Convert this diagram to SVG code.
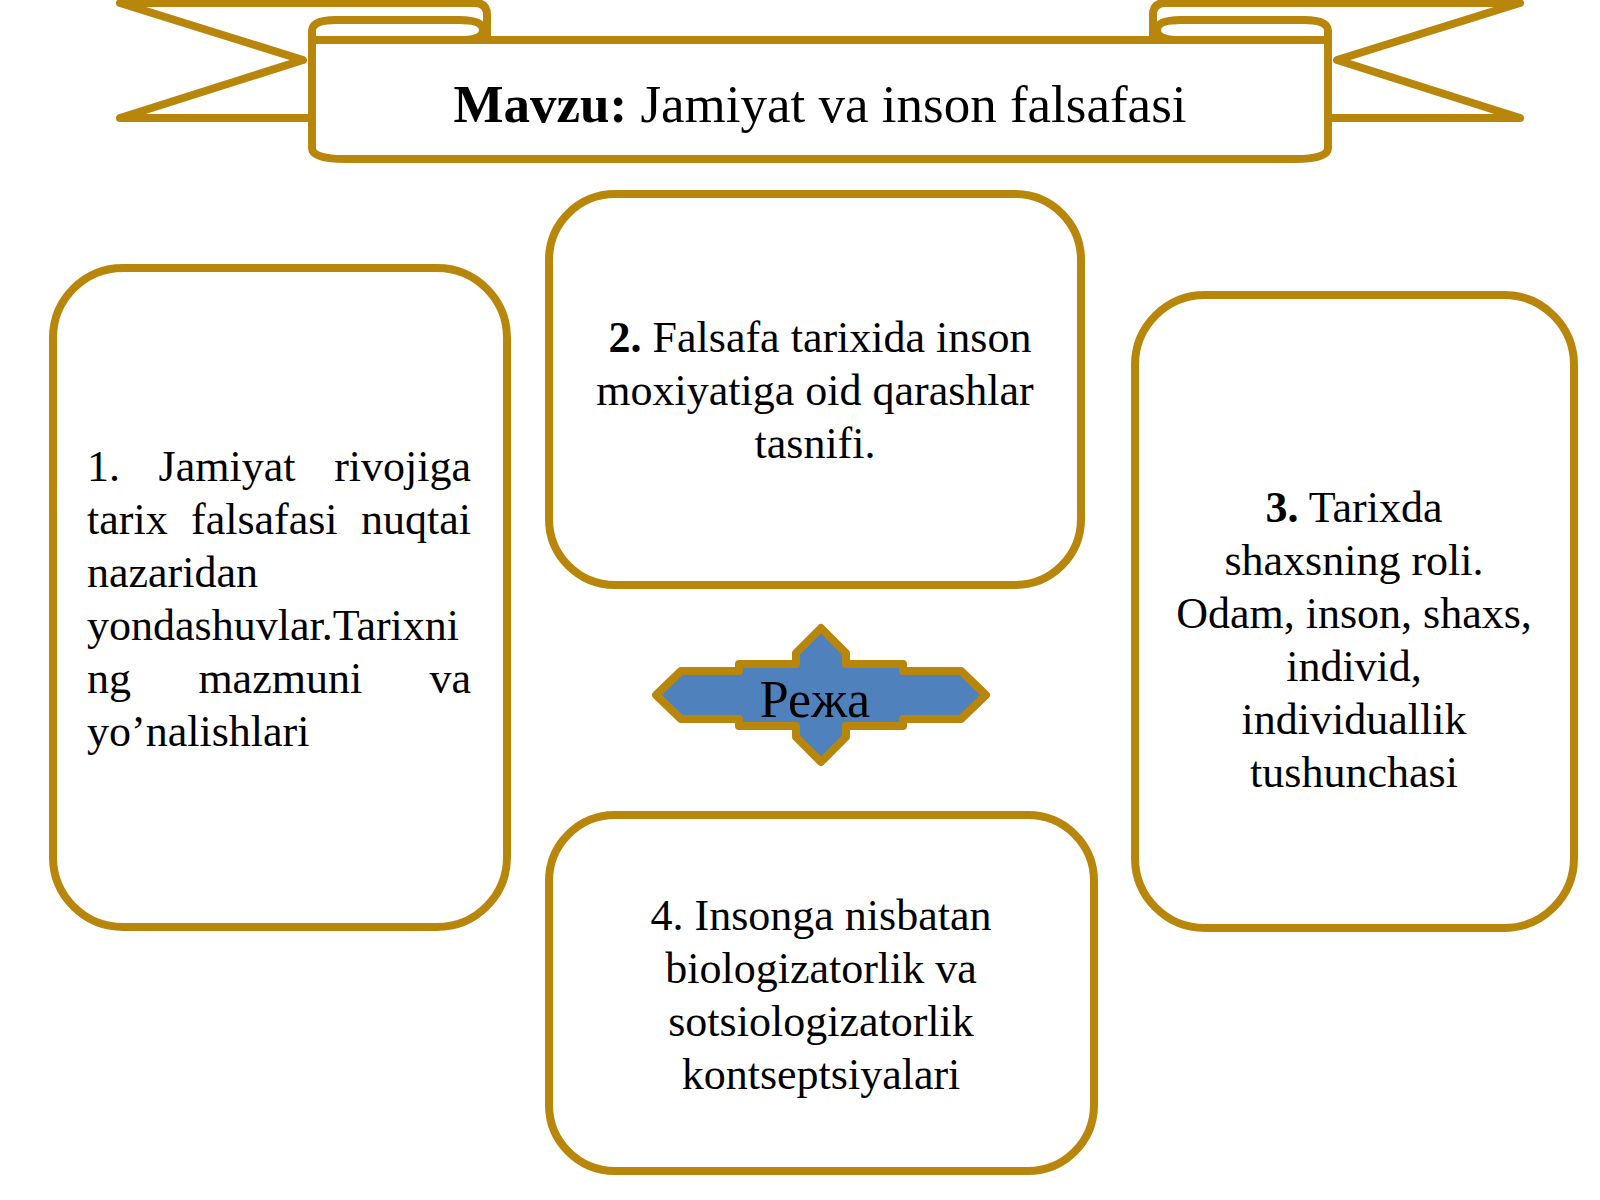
<svg xmlns="http://www.w3.org/2000/svg" width="1600" height="1200" viewBox="0 0 1600 1200">
<style>
.g{fill:#fff;stroke:#B8860B;stroke-width:8;stroke-linejoin:round}
.t{font-family:"Liberation Serif","Times New Roman",serif;font-size:44px;fill:#000}
.c{text-anchor:middle}
.b{font-weight:bold}
</style>
<rect width="1600" height="1200" fill="#fff"/>
<g id="title">
  <path class="g" d="M120,3 L475,3 Q487,3 487,15 L487,45 L312,45 L312,118 L120,118 L303,60 Z"/>
  <path class="g" d="M1520,3 L1165,3 Q1153,3 1153,15 L1153,45 L1328,45 L1328,118 L1520,118 L1337,60 Z"/>
  <path class="g" d="M312,40 L312,148 Q312,159 345,159 L1295,159 Q1328,159 1328,148 L1328,40 Z"/>
  <path class="g" d="M312,40 L312,31 Q312,20 336,20 L459,20 Q483,20 483,30 Q483,40 459,40 Z"/>
  <path class="g" d="M1328,40 L1328,31 Q1328,20 1304,20 L1181,20 Q1157,20 1157,30 Q1157,40 1181,40 Z"/>
  <text class="t c" x="820" y="122" style="font-size:53px"><tspan class="b">Mavzu:</tspan> Jamiyat va inson falsafasi</text>
</g>
<g id="connectors"></g>
<g id="box1">
  <rect class="g" x="53" y="268" width="454" height="659" rx="70"/>
  <text class="t" x="87" y="481">1.</text>
  <text class="t" x="158.6" y="481">Jamiyat</text>
  <text class="t" x="471" y="481" text-anchor="end">rivojiga</text>
  <text class="t" x="87" y="534">tarix</text>
  <text class="t" x="191" y="534">falsafasi</text>
  <text class="t" x="471" y="534" text-anchor="end">nuqtai</text>
  <text class="t" x="87" y="587">nazaridan</text>
  <text class="t" x="87" y="640">yondashuvlar.Tarixni</text>
  <text class="t" x="87" y="693">ng</text>
  <text class="t" x="198.4" y="693">mazmuni</text>
  <text class="t" x="471" y="693" text-anchor="end">va</text>
  <text class="t" x="87" y="746">yo’nalishlari</text>
</g>
<g id="box2">
  <rect class="g" x="549" y="194" width="532" height="391" rx="66"/>
  <text class="t c" x="820" y="352"><tspan class="b">2.</tspan> Falsafa tarixida inson</text>
  <text class="t c" x="815" y="405">moxiyatiga oid qarashlar</text>
  <text class="t c" x="815" y="458">tasnifi.</text>
</g>
<g id="box3">
  <rect class="g" x="1135" y="295" width="439" height="633" rx="70"/>
  <text class="t c" x="1354" y="522"><tspan class="b">3.</tspan> Tarixda</text>
  <text class="t c" x="1354" y="575">shaxsning roli.</text>
  <text class="t c" x="1354" y="628">Odam, inson, shaxs,</text>
  <text class="t c" x="1354" y="681">individ,</text>
  <text class="t c" x="1354" y="734">individuallik</text>
  <text class="t c" x="1354" y="787">tushunchasi</text>
</g>
<g id="box4">
  <rect class="g" x="549" y="815" width="545" height="356" rx="66"/>
  <text class="t c" x="821" y="930">4. Insonga nisbatan</text>
  <text class="t c" x="821" y="983">biologizatorlik va</text>
  <text class="t c" x="821" y="1036">sotsiologizatorlik</text>
  <text class="t c" x="821" y="1089">kontseptsiyalari</text>
</g>
<g id="reja">
  <polygon class="g" style="fill:#4F81BD" points="656,695 681,671 739,671 739,664 796,664 796,653 821,628 846,653 846,664 903,664 903,671 961,671 986,695 961,719 903,719 903,726 846,726 846,737 821,762 796,737 796,726 739,726 739,719 681,719"/>
  <text class="t c" x="815" y="717" style="font-size:52px">Режа</text>
</g>
</svg>
